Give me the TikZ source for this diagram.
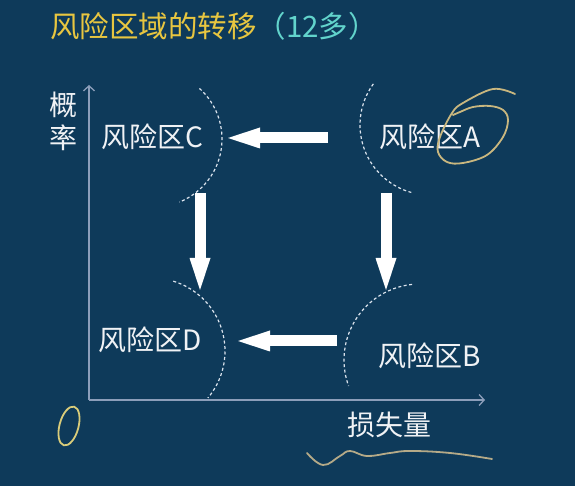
\documentclass[tikz,border=0pt]{standalone}
\usepackage{fontspec}
\setmainfont{Noto Sans CJK SC}
\usetikzlibrary{arrows.meta}

\definecolor{slatebg}{RGB}{14,58,90}
\definecolor{titleyellow}{RGB}{232,198,64}
\definecolor{titlecyan}{RGB}{98,212,204}
\definecolor{labelwhite}{RGB}{240,242,245}
\definecolor{axiscol}{RGB}{140,158,186}
\definecolor{boundcol}{RGB}{220,228,238}
\definecolor{penink}{RGB}{201,183,127}
\definecolor{penyellow}{RGB}{217,204,122}
\definecolor{pengray}{RGB}{181,170,136}

\tikzset{
  region/.style={text=labelwhite, font=\fontsize{28}{33}\selectfont, inner sep=0pt},
  axisline/.style={draw=axiscol, line width=1.3pt, -{Straight Barb[length=5pt,width=11pt]}},
  flow/.style={draw=white, line width=11pt, -{Triangle[length=32pt,width=21pt,line width=0pt]}},
  boundary/.style={draw=boundcol, line width=1.2pt, dash pattern=on 3pt off 2.5pt},
  penstroke/.style={line width=1.8pt, line cap=round, line join=round},
}

\begin{document}
\begin{tikzpicture}[x=1pt,y=1pt]
  % background and fixed frame
  \fill[slatebg] (0,0) rectangle (575,486);
  \useasboundingbox (0,0) rectangle (575,486);

  % title
  \node[anchor=west, inner sep=0pt, font=\fontsize{29.5}{33}\selectfont] (title) at (50,460)
    {\textcolor{titleyellow}{风险区域的转移}\textcolor{titlecyan}{（12多）}};

  % axes
  \coordinate (origin) at (89,86);
  \coordinate (ytop) at (89,401);
  \coordinate (xend) at (485,86);
  \draw[axisline] (origin) -- (ytop);
  \draw[axisline] (origin) -- (xend);
  \node[region, align=center] (ylab) at (63,365) {概\\率};
  \node[region] (xlab) at (389,61) {损失量};

  % risk regions
  \node[region] (rc) at (152,349) {风险区C};
  \node[region] (ra) at (430,349) {风险区A};
  \node[region] (rd) at (150,146) {风险区D};
  \node[region] (rb) at (430,130) {风险区B};

  % dashed region boundaries
  \draw[boundary] ([shift={(48:68)}]154,347) arc[start angle=48, end angle=-68, radius=68];
  \draw[boundary] ([shift={(144:70)}]430,361) arc[start angle=144, end angle=256, radius=70];
  \draw[boundary] ([shift={(73:73)}]152,135) arc[start angle=73, end angle=-40, radius=73];
  \draw[boundary] ([shift={(96:76)}]420,126) arc[start angle=96, end angle=200, radius=76];

  % transfer arrows
  \coordinate (a2c) at (328,348);
  \coordinate (c2a) at (228,348);
  \coordinate (b2d) at (337,145);
  \coordinate (d2b) at (238,145);
  \coordinate (c2d) at (200,293);
  \coordinate (d2c) at (200,196);
  \coordinate (a2b) at (386,293);
  \coordinate (b2a) at (386,196);
  \draw[flow] (a2c) -- (c2a);
  \draw[flow] (b2d) -- (d2b);
  \draw[flow] (c2d) -- (d2c);
  \draw[flow] (a2b) -- (b2a);

  % pen marks
  \draw[penstroke, draw=penink] plot[smooth, tension=0.6] coordinates {
    (515,392) (493,397) (463,383) (452,373) (440,349) (438,334) (447,324)
    (463,323) (487,331) (503,349) (508,366) (503,376) (490,380) (473,379)
    (460,374) (453,371)};
  \draw[penstroke, draw=penyellow] (69,60) ellipse[x radius=9.5, y radius=20, rotate=-15];
  \draw[penstroke, draw=pengray] plot[smooth, tension=0.7] coordinates {
    (307,33) (323,21) (340,30) (350,35) (367,30) (390,33) (410,35) (450,33) (492,27)};
\end{tikzpicture}
\end{document}
